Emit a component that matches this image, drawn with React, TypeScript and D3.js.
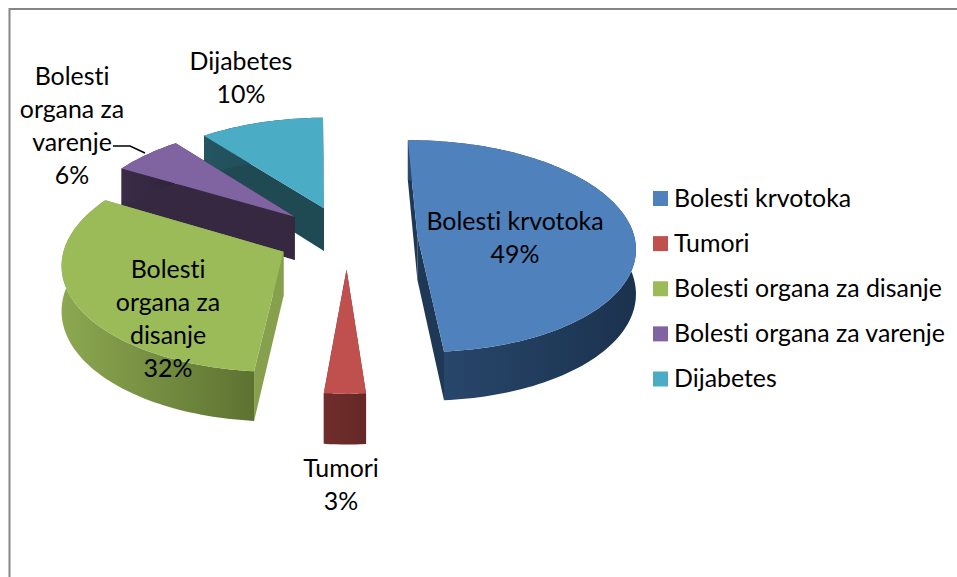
import React from 'react';
import * as d3 from 'd3';

const categories = ['Bolesti krvotoka', 'Tumori', 'Bolesti organa za disanje', 'Bolesti organa za varenje', 'Dijabetes'];
const values = [49, 2.7, 31.9, 6, 10.4];
const labelLines = [
  ['Bolesti krvotoka'],
  ['Tumori'],
  ['Bolesti', 'organa za', 'disanje'],
  ['Bolesti', 'organa za', 'varenje'],
  ['Dijabetes'],
];
const labelX = [515, 341, 168, 72, 241];
const labelY = [224, 471, 272, 79, 64];

const topColors = ['#4f81bd', '#c0504d', '#9bbb59', '#8064a2', '#4bacc6'];
const sideColors = ['#1f3856', '#6e2d2b', '#86a04d', '#352840', '#1f4a54'];
const wallLight = ['#2a4a70', '#702e2c', '#8ca851', '#3a2c47', '#245561'];
const wallDark = ['#1b324e', '#652826', '#5d7231', '#30243b', '#1c444d'];

const width = 957;
const height = 577;
const font = 'Lato, "Open Sans", sans-serif';

// fake 3d: pie lies on a plane seen in perspective
const x0 = 347;
const y0 = 237;
const radius = 217;
const tilt = 105;
const persp = 0.1;
const depth = 44;
const explodeX = 0.325;
const explodeZ = 0.3;
const rotation = -0.9 * Math.PI / 180;

type Pt = [number, number];

function project(x: number, z: number, h = 0): Pt {
  const s = 1 / (1 - persp * z);
  return [x0 + s * radius * x, y0 + s * (tilt * z + h)];
}

const line = d3.line<Pt>();

const pie = d3.pie<number>().sort(null).startAngle(rotation).endAngle(rotation + Math.PI * 2);
const arcs = pie(values);

const slices = arcs.map((a, i) => {
  const mid = (a.startAngle + a.endAngle) / 2;
  const cx = Math.sin(mid) * explodeX;
  const cz = -Math.cos(mid) * explodeZ;
  const steps = Math.max(4, Math.ceil((a.endAngle - a.startAngle) * 40));
  const angles = d3.range(steps + 1).map(k => a.startAngle + (a.endAngle - a.startAngle) * k / steps);
  const rim = angles.map(t => [cx + Math.sin(t), cz - Math.cos(t)] as Pt);
  const apexTop = project(cx, cz);
  const apexBottom = project(cx, cz, depth);
  const rimTop = rim.map(p => project(p[0], p[1]));
  const rimBottom = rim.map(p => project(p[0], p[1], depth));
  const topFace = line([apexTop, ...rimTop]) + 'Z';
  const wallA = line([apexTop, rimTop[0], rimBottom[0], apexBottom]) + 'Z';
  const wallB = line([apexTop, rimTop[steps], rimBottom[steps], apexBottom]) + 'Z';
  const arcWall = line([...rimTop, ...[...rimBottom].reverse()]) + 'Z';
  const xs = rimTop.map(p => p[0]);
  return { i, cz, topFace, wallA, wallB, arcWall, x1: d3.min(xs)!, x2: d3.max(xs)! };
});

// back to front
const drawOrder = [...slices].sort((a, b) => d3.ascending(a.cz, b.cz));

const legendY = d3.scalePoint<string>().domain(categories).range([198.5, 379]);
const lineHeight = 33;

export default function App() {
  return (
    <svg
      width={width}
      height={height}
      viewBox={`0 0 ${width} ${height}`}
      style={{ position: 'fixed', left: 0, top: 0, display: 'block', background: '#fff', fontVariantLigatures: 'none' }}
    >
      <defs>
        {slices.map(s => (
          <linearGradient
            key={s.i}
            id={`wall${s.i}`}
            gradientUnits="userSpaceOnUse"
            x1={s.x1}
            x2={s.x2}
            y1={0}
            y2={0}
          >
            <stop offset="0%" stopColor={wallLight[s.i]} />
            <stop offset="100%" stopColor={wallDark[s.i]} />
          </linearGradient>
        ))}
      </defs>

      <rect x={9.5} y={9} width={width + 20} height={height + 20} fill="#fff" stroke="#868686" strokeWidth={2} />

      {drawOrder.map(s => (
        <g key={s.i}>
          <path d={s.wallA} fill={sideColors[s.i]} />
          <path d={s.wallB} fill={sideColors[s.i]} />
          <path d={s.arcWall} fill={`url(#wall${s.i})`} />
          <path d={s.topFace} fill={topColors[s.i]} />
        </g>
      ))}

      <path d="M113,146H130L145,153" fill="none" stroke="#000" strokeWidth={1.4} />

      <g fontFamily={font} fontSize={24.9} fill="#000" textAnchor="middle">
        {categories.map((c, i) => (
          <text key={c} x={labelX[i]} y={labelY[i]} dominantBaseline="middle">
            {labelLines[i].map((t, k) => (
              <tspan key={k} x={labelX[i]} y={labelY[i] + k * lineHeight}>{t}</tspan>
            ))}
            <tspan x={labelX[i]} y={labelY[i] + labelLines[i].length * lineHeight}>{Math.round(values[i])}%</tspan>
          </text>
        ))}
      </g>

      <g fontFamily={font} fontSize={24.9} fill="#000">
        {categories.map((c, i) => (
          <g key={c} transform={`translate(653,${legendY(c)})`}>
            <rect x={0} y={-7.5} width={15} height={15} fill={topColors[i]} />
            <text x={21} y={2} dominantBaseline="middle">{c}</text>
          </g>
        ))}
      </g>
    </svg>
  );
}
